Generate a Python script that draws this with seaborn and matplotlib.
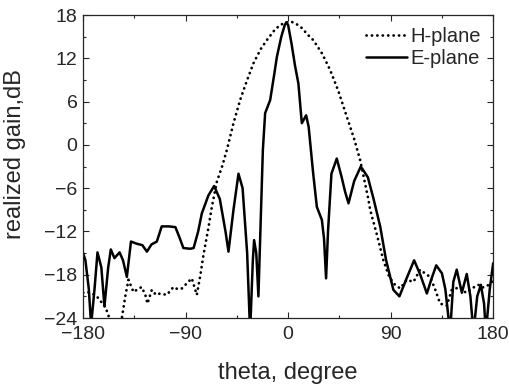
import numpy as np
import pandas as pd
import seaborn as sns
import matplotlib.pyplot as plt
from matplotlib.ticker import MultipleLocator

# E-plane (solid); values below -24 are clipped by the axes
e_theta = [-180, -178, -175, -173, -170, -167.4, -164, -161.3, -158, -155.7, -152.5, -148, -145,
           -141.6, -138, -133, -128, -124, -120, -115.3, -111, -105, -99, -95, -92, -86, -83, -79,
           -75.8, -70, -65, -60, -55, -52.4, -48, -43.6, -40, -36, -33.4, -31, -29.9, -28, -26.1,
           -24, -22.2, -20.2, -15.8, -12, -9.9, -6, -3, -1.5, 0, 3, 6, 9, 12, 15.8, 18, 22, 25.2,
           29.6, 31.5, 33.3, 35, 38, 42.7, 47, 50, 53, 58, 63.8, 70, 75, 80.8, 86, 92.4, 97.7, 104,
           110.6, 116, 121.8, 126, 130, 135, 138, 142.2, 145, 148, 152.5, 156.8, 160, 162.7, 166,
           169.2, 172, 173.6, 177, 180]
e_gain = [-15, -16, -20, -25, -20, -14.9, -17, -22.4, -17, -14.5, -15.7, -14.9, -16,
          -18.3, -13.4, -13.7, -13.9, -14.8, -13.8, -13.4, -11.3, -11.3, -11.4, -13, -14.3, -14.4, -14.3, -12,
          -9.5, -7, -5.7, -7.5, -12, -14.8, -9, -4.0, -6, -15, -26, -16, -13.2, -15, -21,
          -10, -0.7, 4.4, 6.2, 10, 12.2, 15, 16.6, 17.0, 16.6, 14, 11, 8.5, 3.0, 4.1, 2.5, -4, -8.6,
          -10.4, -13, -18.5, -12, -4, -1.9, -4.5, -6.5, -8.1, -5, -3.0, -4.5, -7.5, -11.3, -16, -20.1, -21.0, -18.5,
          -16, -18, -20.6, -18.5, -16.7, -17.8, -20, -26, -19, -17.3, -20.5, -17.9, -21, -26, -21,
          -19.4, -22, -26, -20, -16.4]

# H-plane (dotted)
h_theta = [-180, -176, -172, -168, -164, -160.7, -157.8, -156, -148, -146, -143, -140.2, -135.8,
           -132, -128.5, -125, -123.5, -119.7, -116, -112.4, -106.5, -100.7, -97, -93.3, -89, -84.6,
           -80.2, -77, -74.4, -70, -67, -62.6, -58, -53.8, -48, -42.2, -36, -30.5, -24, -18.8, -12,
           -7.2, -3, 1.8, 6, 12, 17, 22.2, 30, 36.8, 44, 51.5, 58, 63.2, 70.5, 72, 78, 83.6, 88,
           92.4, 98.3, 104.2, 110, 115.9, 120, 124.6, 129, 133.4, 139.3, 143.6, 151, 156, 161.2,
           167, 170, 174.4, 178.9, 180]
h_gain = [-20.5, -20.4, -20.6, -21, -21.8, -22.4, -23.6, -25, -25, -24, -21, -18.7, -20.4,
          -20.0, -19.7, -21, -22.0, -20.1, -20.8, -20.6, -20.8, -19.7, -20, -19.9, -19.2, -18.5,
          -20.8, -18, -15.3, -11.5, -8.6, -5.1, -3, -0.7, 3, 6.2, 9, 11.3, 13.3, 14.5, 15.9,
          16.6, 16.9, 17.1, 16.9, 16.2, 15.3, 14.5, 12.6, 10.4, 7.5, 3.9, 0.8, -2.1, -7.6, -9.0, -12.5, -16, -18,
          -19.2, -19.9, -18.7, -19, -17.3, -17.8, -18.3, -20, -22, -22.3, -20.1, -19.7, -20.5, -19.9,
          -19.4, -19.8, -19.6, -19, -18.5]

sns.set_style("ticks")
plt.rcParams['font.family'] = ['Liberation Sans', 'DejaVu Sans']

df_h = pd.DataFrame({"theta": h_theta, "gain": h_gain})
df_e = pd.DataFrame({"theta": e_theta, "gain": e_gain})

fig = plt.figure(figsize=(5.1, 3.85), dpi=100)
ax = fig.add_axes([0.163, 0.174, 0.804, 0.787])

sns.lineplot(data=df_h, x="theta", y="gain", ax=ax, color="black", lw=2.0,
             linestyle=(0, (0.05, 1.9)), dash_capstyle="round", label="H-plane")
sns.lineplot(data=df_e, x="theta", y="gain", ax=ax, color="black", lw=1.8, label="E-plane")

ax.set_xlim(-180, 180)
ax.set_ylim(-24, 18)
ax.xaxis.set_major_locator(MultipleLocator(90))
ax.xaxis.set_minor_locator(MultipleLocator(45))
ax.yaxis.set_major_locator(MultipleLocator(6))
ax.yaxis.set_minor_locator(MultipleLocator(3))
ax.tick_params(which="both", direction="in", top=True, right=True, labelsize=14, width=0.8)
ax.tick_params(which="major", length=4)
ax.tick_params(which="minor", length=2)
ax.tick_params(axis="x", pad=6)
ax.tick_params(axis="y", pad=4)
for s in ax.spines.values():
    s.set_linewidth(0.9)

ax.set_xlabel("theta, degree", fontsize=17)
ax.set_ylabel("realized gain,dB", fontsize=17)
ax.xaxis.set_label_coords(0.5, -0.145)
ax.yaxis.set_label_coords(-0.14, 0.54)

leg = ax.legend(loc="upper right", frameon=False, fontsize=14.5, handlelength=2.0,
                handletextpad=0.2, borderaxespad=0.3, borderpad=0.3, labelspacing=0.15)

fig.savefig("out.png", dpi=100)
